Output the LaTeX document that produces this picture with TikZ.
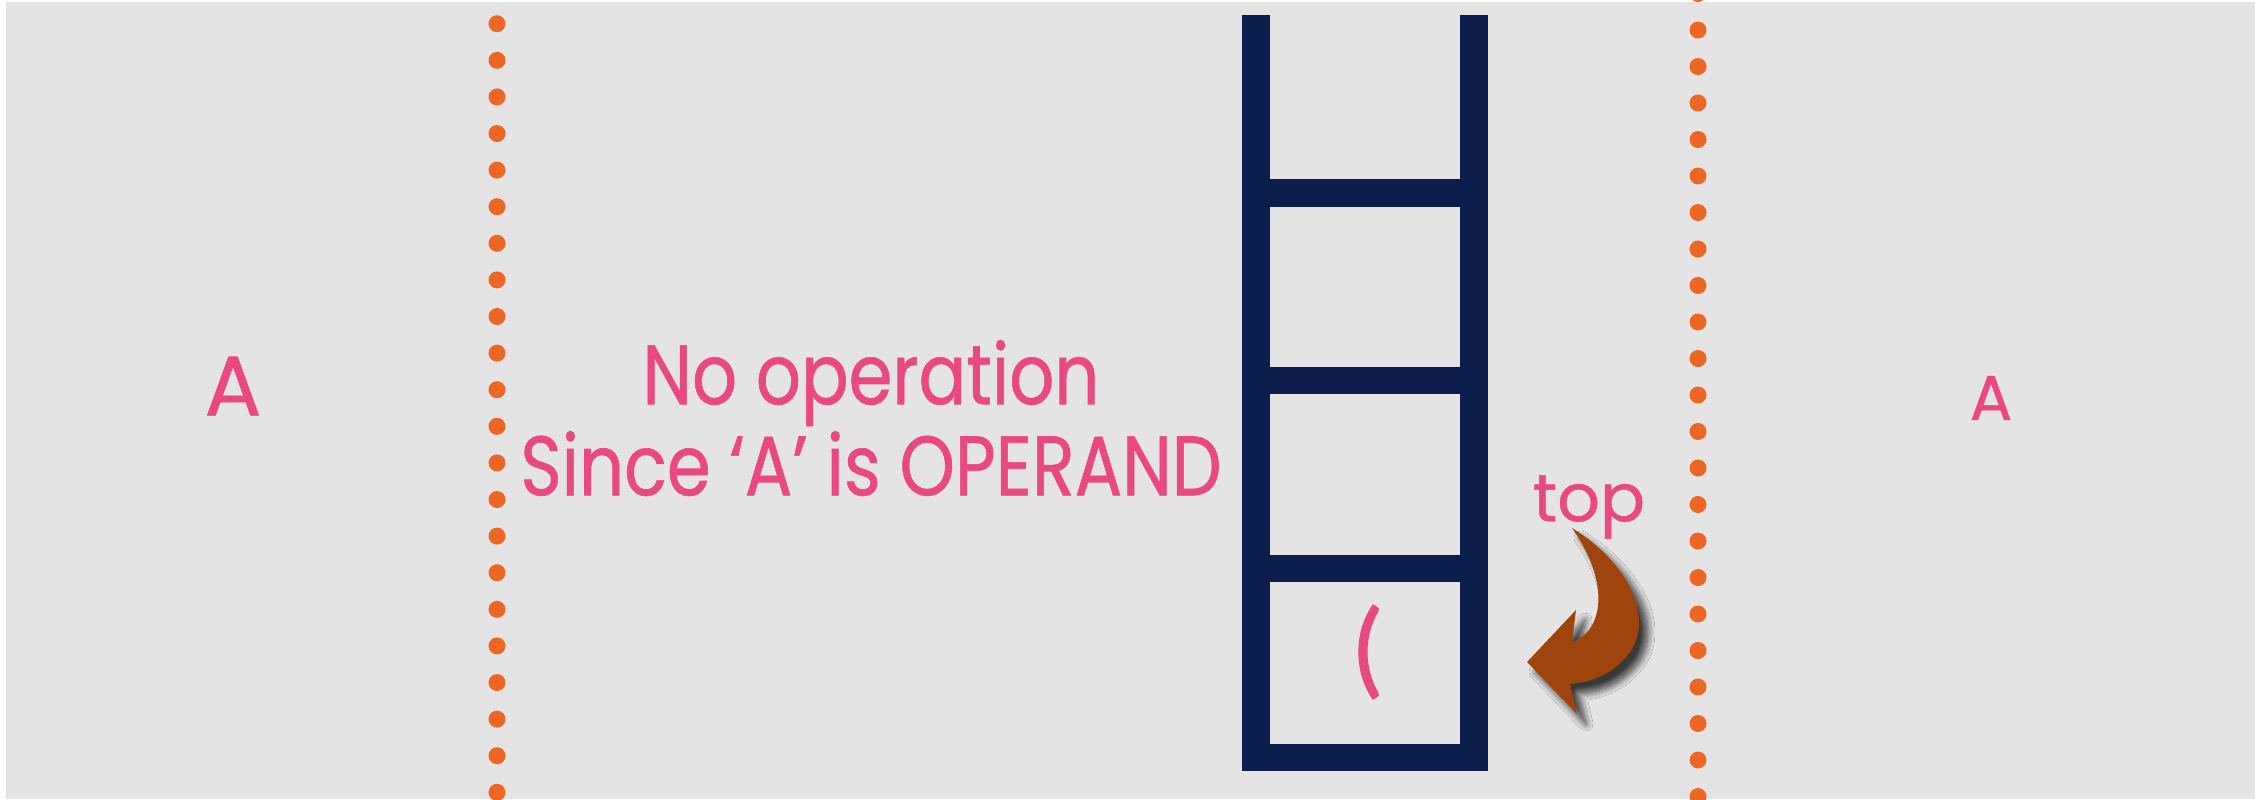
\documentclass[tikz,border=0pt]{standalone}
\usepackage{fontspec}
\setmainfont{Poppins}[FakeBold=0.7]
\newfontfamily\narrowfont[FakeStretch=0.835, FakeBold=0.7]{Poppins}
\newfontfamily\parenfont[FakeBold=1.2]{Lato}
\usetikzlibrary{shadows.blur}
\definecolor{panelgray}{RGB}{228,228,228}
\definecolor{dotorange}{RGB}{238,102,36}
\definecolor{stacknavy}{RGB}{11,29,74}
\definecolor{textpink}{RGB}{233,73,128}
\definecolor{arrowbrown}{RGB}{160,68,14}
\tikzset{
  lbl/.style={inner sep=0pt, text=textpink},
  stackline/.style={draw=stacknavy, line width=7.7pt},
  sepdot/.style={fill=dotorange},
}

\begin{document}
\begin{tikzpicture}[x=0.01cm, y=-0.01cm]
  % canvas: 1 unit = 1 px of the 2255 x 799 frame
  \useasboundingbox (0,0) rectangle (2255,799);
  \fill[white] (0,0) rectangle (2255,799);
  \fill[panelgray] (6,2) rectangle (2255,799);

  % dotted separators
  \foreach \i in {0,...,21}
    \fill[sepdot] (497,23.7+36.6*\i) circle (0.085cm);
  \foreach \i in {0,...,22}
    \fill[sepdot] (1698,-6.5+36.5*\i) circle (0.085cm);

  % symbol read
  \node[lbl, font=\fontsize{24}{26}\selectfont] (symA) at (233,386) {A};

  % remark
  \node[lbl, align=center, font=\fontsize{24}{25.9}\narrowfont]
    (remark) at (871,418) {No operation\\Since ‘A’ is OPERAND};

  % stack
  \draw[stackline] (1256,15) -- (1256,757.5) -- (1474,757.5) -- (1474,15);
  \foreach \yy in {193,380.5,568.5}
    \draw[stackline] (1256,\yy) -- (1474,\yy);
  \node[lbl, font=\fontsize{29}{32}\parenfont] (paren) at (1368,652) {(};

  % top pointer
  \node[lbl, font=\fontsize{19}{22}\selectfont] (toplbl) at (1589,507) {top};
  \fill[arrowbrown, blur shadow={shadow xshift=0.09cm, shadow yshift=-0.1cm,
      shadow opacity=75, shadow blur radius=0.07cm, shadow blur steps=10}]
    (1572,528) .. controls (1625,560) and (1655,615) .. (1630,652)
    .. controls (1614,674) and (1592,682) .. (1570,684)
    -- (1577,714) -- (1527,662) -- (1576,610) -- (1572,642)
    .. controls (1602,632) and (1612,585) .. (1572,528) -- cycle;

  % postfix output
  \node[lbl, font=\fontsize{18}{20}\selectfont] (outA) at (1991,398) {A};
\end{tikzpicture}
\end{document}
